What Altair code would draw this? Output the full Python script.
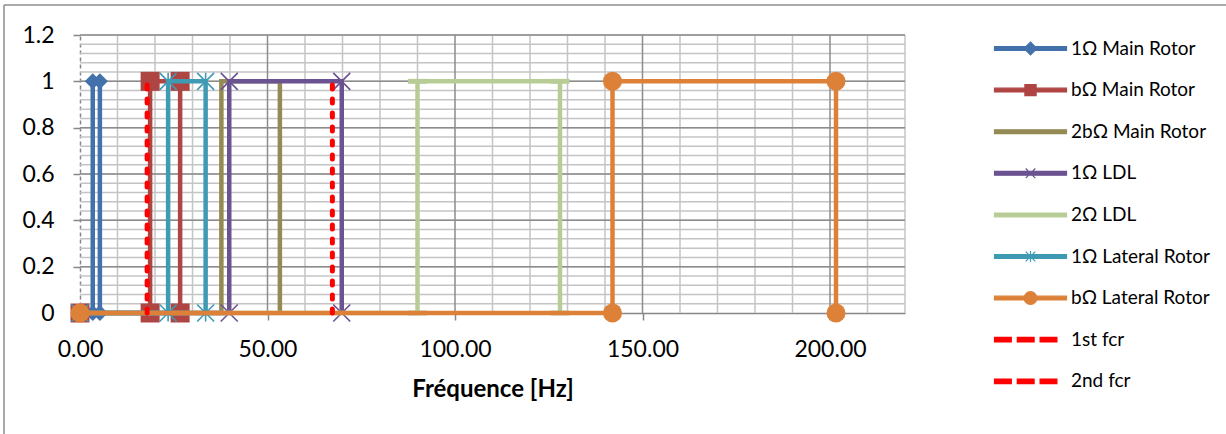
import altair as alt
import pandas as pd

# ---------------- data ----------------
series = ["1Ω Main Rotor", "bΩ Main Rotor", "2bΩ Main Rotor", "1Ω LDL", "2Ω LDL",
          "1Ω Lateral Rotor", "bΩ Lateral Rotor", "1st fcr", "2nd fcr"]
colors = ["#4371AB", "#AE4542", "#948A54", "#6B5290", "#B8CD96",
          "#3F9AB3", "#DD8139", "#FF0000", "#FF0000"]

# frequency bands (Hz): each band is a rectangular pulse of height 1
band_series = series[:7]
band_low = [3.4, 18.7, 37.7, 39.8, 90.0, 23.5, 142.0]
band_high = [5.3, 26.7, 53.3, 69.8, 128.0, 33.5, 201.6]

# critical frequencies (Hz)
fcr_series = ["1st fcr", "2nd fcr"]
fcr_freq = [17.9, 67.3]

# axis ticks
x_major = [0, 50, 100, 150, 200]
y_major = [0, 0.2, 0.4, 0.6, 0.8, 1.0, 1.2]
x_grid_major = [50, 100, 150, 200]
x_grid_minor = [10, 20, 30, 40, 60, 70, 80, 90, 110, 120, 130, 140, 160, 170, 180, 190, 210, 220]
y_grid_major = [0.2, 0.4, 0.6, 0.8, 1.0, 1.2]
y_grid_minor = [round(0.04 * i, 2) for i in range(1, 31)]

rows = []
for s, lo, hi in zip(band_series, band_low, band_high):
    pts = [(0, 0), (lo, 0), (lo, 1), (hi, 1), (hi, 0)]
    for k, (fx, fy) in enumerate(pts):
        rows.append({"series": s, "x": fx, "y": fy, "k": k})
for s, f in zip(fcr_series, fcr_freq):
    for k, fy in enumerate([0, 1]):
        rows.append({"series": s, "x": f, "y": fy, "k": k})
df = pd.DataFrame(rows)

# ---------------- styling ----------------
FONT = "Lato"
W, H = 825, 278

x_axis = alt.Axis(values=x_major, format=".2f", grid=False, domainColor="#868686",
                  domainWidth=1.5, tickColor="#868686", tickWidth=1.5, tickSize=7,
                  labelFont=FONT, labelFontSize=23, labelColor="black",
                  labelPadding=18, labelFlush=False,
                  title="Fréquence [Hz]", titleFont=FONT, titleFontSize=24,
                  titleFontWeight="bold", titleColor="black", titlePadding=16)
y_axis = alt.Axis(values=y_major, format="~g", grid=False, domainColor="#868686",
                  domainWidth=1.5, domainDash=[4, 3], tickColor="#868686",
                  tickWidth=1.5, tickSize=7, labelFont=FONT, labelFontSize=23,
                  labelColor="black", labelPadding=19, title=None)

xs = alt.Scale(domain=[0, 220], nice=False, zero=False)
ys = alt.Scale(domain=[0, 1.2], nice=False, zero=False)
X = alt.X("x:Q", scale=xs, axis=x_axis)
Y = alt.Y("y:Q", scale=ys, axis=y_axis)

def vgrid(vals, color):
    return alt.Chart(pd.DataFrame({"x": vals})).mark_rule(color=color, strokeWidth=1.5).encode(x=X)

def hgrid(vals, color):
    return alt.Chart(pd.DataFrame({"y": vals})).mark_rule(color=color, strokeWidth=1.5).encode(y=Y)

layers = [vgrid(x_grid_minor, "#C4C4C4"), hgrid(y_grid_minor, "#C4C4C4"),
          vgrid(x_grid_major, "#8C8C8C"), hgrid(y_grid_major, "#8C8C8C")]

marker = {
    "1Ω Main Rotor": dict(shape="diamond", size=256, filled=True),
    "bΩ Main Rotor": dict(shape="square", size=361, filled=True),
    "1Ω LDL": dict(shape="M-1,-1L1,1M-1,1L1,-1", size=289, filled=False, strokeWidth=1.6),
    "2Ω LDL": dict(shape="M-1,-0.26L1,-0.26L1,0.26L-1,0.26Z", size=361, filled=True),
    "1Ω Lateral Rotor": dict(shape="M-1,-1L1,1M-1,1L1,-1M0,-1L0,1", size=289, filled=False, strokeWidth=1.6),
    "bΩ Lateral Rotor": dict(shape="circle", size=361, filled=True),
}

base = alt.Chart(df)
for s, c in zip(series, colors):
    sub = base.transform_filter(alt.datum.series == s)
    if s in fcr_series:
        ln = sub.mark_line(color=c, strokeWidth=5, strokeDash=[4, 10], strokeCap="round")
    else:
        ln = sub.mark_line(color=c, strokeWidth=4.5)
    layers.append(ln.encode(x=X, y=Y, order="k:Q"))
    if s in marker:
        m = dict(marker[s])
        sw = m.pop("strokeWidth", 1)
        layers.append(sub.mark_point(color=c, opacity=1, strokeWidth=sw, **m).encode(x=X, y=Y))

# legend symbols: line + marker, drawn as custom symbol paths (unit = 8 px)
body = "M-4.5,-0.24L4.5,-0.24L4.5,0.24L-4.5,0.24Z"
dashes = ("M-4.5,-0.28L-2.4,-0.28L-2.4,0.28L-4.5,0.28Z"
          "M-1.65,-0.28L0.45,-0.28L0.45,0.28L-1.65,0.28Z"
          "M1.2,-0.28L3.3,-0.28L3.3,0.28L1.2,0.28Z")
legend_paths = [
    body + "M-0.8,0L0,-0.8L0.8,0L0,0.8Z",
    body + "M-0.7,-0.7L0.7,-0.7L0.7,0.7L-0.7,0.7Z",
    body,
    body + "M-0.6,-0.6L0.6,0.6M-0.6,0.6L0.6,-0.6",
    body,
    body + "M-0.6,-0.6L0.6,0.6M-0.6,0.6L0.6,-0.6M0,-0.7L0,0.7",
    body + "M-0.8,0A0.8,0.8 0 1,1 0.8,0A0.8,0.8 0 1,1 -0.8,0Z",
    dashes,
    dashes,
]

leg = alt.Legend(title=None, orient="none", legendX=941, legendY=4, padding=0,
                 symbolSize=256, symbolStrokeWidth=1.2, labelFont=FONT,
                 labelFontSize=19, labelColor="black", labelOffset=31,
                 labelLimit=400, rowPadding=21.6, symbolLimit=0)

legend_layer = base.transform_filter("false").mark_point(filled=True, opacity=1, strokeWidth=1.2).encode(
    x=X, y=Y,
    fill=alt.Fill("series:N", scale=alt.Scale(domain=series, range=colors), legend=leg),
    stroke=alt.Stroke("series:N", scale=alt.Scale(domain=series, range=colors), legend=leg),
    shape=alt.Shape("series:N", scale=alt.Scale(domain=series, range=legend_paths), legend=leg),
)
layers.append(legend_layer)

# outer chart-area frame (top and left edges visible in the picture)
frame_left = alt.Chart(pd.DataFrame({"a": [0]})).mark_rule(color="#8C8C8C", strokeWidth=1.5).encode(
    x=alt.value(-76), y=alt.value(-30), y2=alt.value(400))
frame_top = alt.Chart(pd.DataFrame({"a": [0]})).mark_rule(color="#8C8C8C", strokeWidth=1.5).encode(
    x=alt.value(-76), x2=alt.value(1146), y=alt.value(-30))
layers = [frame_left, frame_top] + layers

chart = alt.layer(*layers).properties(
    width=W, height=H, autosize="none",
    padding={"left": 80, "top": 35, "right": 321, "bottom": 121},
    background="white",
).configure_view(stroke=None)

chart.save("out.html", embed_options={"renderer": "svg", "actions": False})
